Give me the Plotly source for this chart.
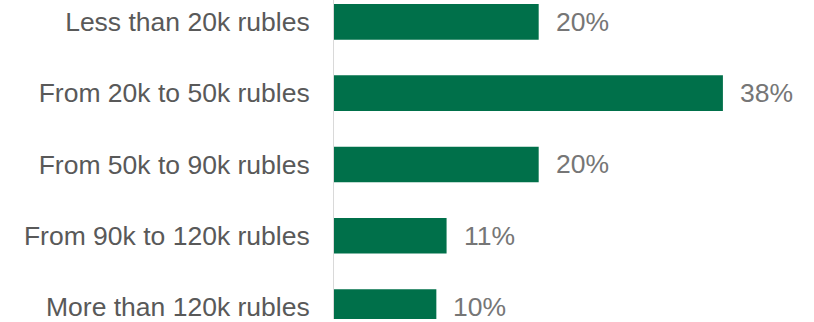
import plotly.graph_objects as go

# Monthly income brackets and share of respondents (%)
categories = [
    "Less than 20k rubles",
    "From 20k to 50k rubles",
    "From 50k to 90k rubles",
    "From 90k to 120k rubles",
    "More than 120k rubles",
]
shares = [20, 38, 20, 11, 10]

BAR_GREEN = "#00704A"
LABEL_GREY = "#595959"
VALUE_GREY = "#767676"
FONT = "Liberation Sans, Arial, sans-serif"

fig = go.Figure(
    go.Bar(
        x=shares,
        y=categories,
        orientation="h",
        marker=dict(color=BAR_GREEN, line=dict(width=0)),
        width=0.5,
        hoverinfo="skip",
    )
)

# Percentage labels to the right of each bar
for cat, val in zip(categories, shares):
    fig.add_annotation(
        x=val,
        y=cat,
        text=f"{val}%",
        showarrow=False,
        xanchor="left",
        yanchor="middle",
        xshift=15,
        font=dict(family=FONT, size=26.5, color=VALUE_GREY),
    )

fig.update_layout(
    width=814,
    height=322,
    margin=dict(l=334, r=0, t=0, b=0),
    paper_bgcolor="white",
    plot_bgcolor="white",
    showlegend=False,
    font=dict(family=FONT, size=26.5, color=LABEL_GREY),
)

fig.update_xaxes(visible=False, range=[0, 46.9], fixedrange=True)
fig.update_yaxes(
    type="category",
    categoryorder="array",
    categoryarray=categories,
    range=[4.167, -0.306],
    showgrid=False,
    zeroline=False,
    showline=True,
    linecolor="#d9d9d9",
    linewidth=1,
    ticks="",
    ticklabelstandoff=18,
    tickfont=dict(family=FONT, size=26.5, color=LABEL_GREY),
    fixedrange=True,
)

fig.write_html("out.html")
